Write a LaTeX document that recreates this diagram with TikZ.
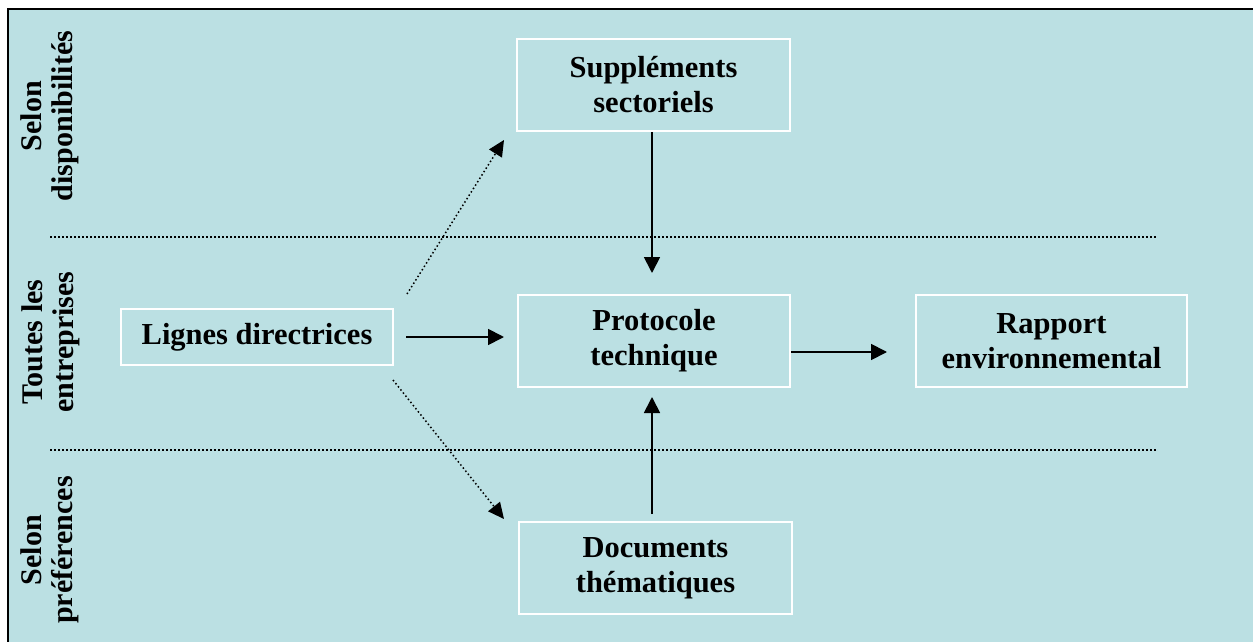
\documentclass[tikz,border=0pt]{standalone}
\usepackage{fontspec}
\setmainfont{Liberation Serif}
\usetikzlibrary{arrows.meta,calc}
\definecolor{bgblue}{RGB}{187,224,227}
\tikzset{
  box/.style={draw=white, line width=2pt, fill=bgblue, align=center, inner sep=0pt,
    font=\bfseries\fontsize{30.5}{35}\selectfont},
  side/.style={align=center, rotate=90, inner sep=0pt,
    font=\bfseries\fontsize{30}{31}\selectfont},
  solidarrow/.style={line width=1.8pt, -{Triangle[length=16pt,width=16pt]}},
  dotarrow/.style={line width=1.5pt, dash pattern=on 1.5pt off 2.5pt, -{Triangle[length=16pt,width=15pt]}},
  sepline/.style={line width=1.5pt, dash pattern=on 1.5pt off 2.5pt}
}
\begin{document}
\begin{tikzpicture}[x=1pt,y=-1pt]
\useasboundingbox (0,0) rectangle (1253,642);
\clip (0,0) rectangle (1253,642);
\fill[white] (0,0) rectangle (1253,642);
\draw[line width=2.5pt, fill=bgblue] (8,9) rectangle (1265,660);

% separators
\coordinate (s1a) at (50,237);
\coordinate (s1b) at (1157,237);
\coordinate (s2a) at (50,450);
\coordinate (s2b) at (1157,450);
\draw[sepline] (s1a) -- (s1b);
\draw[sepline] (s2a) -- (s2b);

% side labels
\node[side] (l1) at (50,116) {Selon\\disponibilités};
\node[side] (l2) at (51,342) {Toutes les\\entreprises};
\node[side] (l3) at (50,550) {Selon\\préférences};

% boxes
\node[box, minimum width=272pt, minimum height=56pt] (lignes) at (257,337) {Lignes directrices};
\node[box, minimum width=273pt, minimum height=92pt] (supp) at (653.5,85) {Suppléments\\sectoriels};
\node[box, minimum width=272pt, minimum height=92pt] (proto) at (654,341) {Protocole\\technique};
\node[box, minimum width=271pt, minimum height=92pt] (rapport) at (1051.5,341) {Rapport\\environnemental};
\node[box, minimum width=273pt, minimum height=92pt] (docs) at (655.5,568) {Documents\\thématiques};

% arrows
\draw[solidarrow, shorten <=12pt, shorten >=13pt] (lignes.east) -- (lignes.east -| proto.west);
\draw[solidarrow, shorten >=28pt] ($(proto.east)+(0,11)$) -- ($(rapport.west)+(0,11)$);
\draw[solidarrow, shorten >=21pt] ($(supp.south)+(-1.5,0)$) -- ($(proto.north)+(-2,0)$);
\draw[solidarrow, shorten <=7pt, shorten >=9pt] ($(docs.north)+(-3.5,0)$) -- ($(proto.south)+(-2,0)$);

\coordinate (du1) at ($(lignes.north east)+(13,-14)$);
\coordinate (du2) at ($(supp.south west)+(-12,8)$);
\coordinate (dd1) at ($(lignes.south east)+(-1,14)$);
\coordinate (dd2) at ($(docs.north west)+(-14,-2)$);
\draw[dotarrow] (du1) -- (du2);
\draw[dotarrow] (dd1) -- (dd2);
\end{tikzpicture}
\end{document}
